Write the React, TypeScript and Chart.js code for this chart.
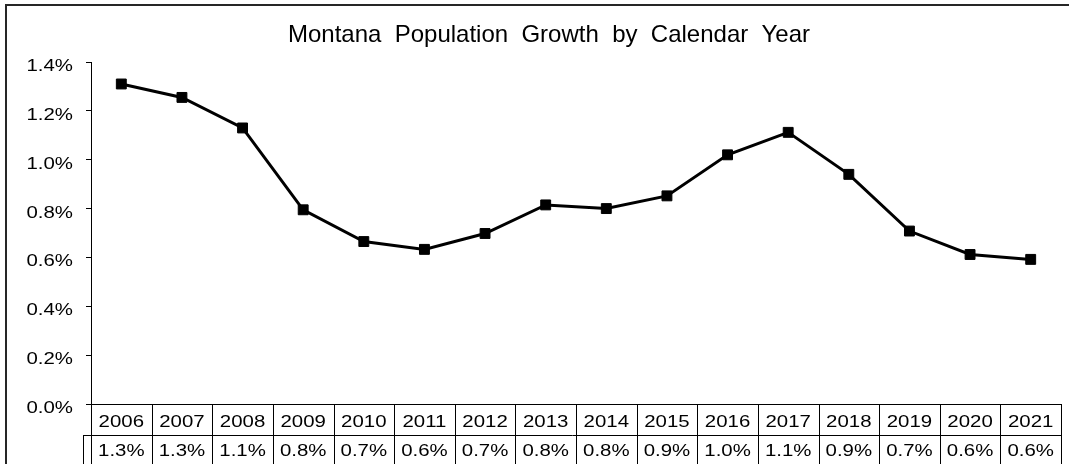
import { useEffect, useRef } from 'react';
import { Chart, registerables } from 'chart.js';

Chart.register(...registerables);

const years = ['2006', '2007', '2008', '2009', '2010', '2011', '2012', '2013', '2014', '2015', '2016', '2017', '2018', '2019', '2020', '2021'];
const growth = [1.31, 1.255, 1.13, 0.795, 0.665, 0.633, 0.698, 0.815, 0.8, 0.852, 1.02, 1.112, 0.94, 0.708, 0.612, 0.592];
const tableValues = ['1.3%', '1.3%', '1.1%', '0.8%', '0.7%', '0.6%', '0.7%', '0.8%', '0.8%', '0.9%', '1.0%', '1.1%', '0.9%', '0.7%', '0.6%', '0.6%'];
const yMin = 0;
const yMax = 1.4;
const yStep = 0.2;
const TITLE = 'Montana  Population  Growth  by  Calendar  Year';

const FONT = '"Liberation Sans", Arial, sans-serif';
const SX = 1.2;

function drawStretched(ctx: CanvasRenderingContext2D, text: string, x: number, y: number, align: CanvasTextAlign) {
  ctx.save();
  ctx.translate(x, y);
  ctx.scale(SX, 1);
  ctx.textAlign = align;
  ctx.textBaseline = 'alphabetic';
  ctx.fillText(text, 0, 0);
  ctx.restore();
}

const decor = {
  id: 'decor',
  afterDraw(chart: any) {
    const { ctx, chartArea: ca, scales } = chart;
    const xs = scales.x;
    const ys = scales.y;
    ctx.save();
    // outer frame
    ctx.strokeStyle = '#262626';
    ctx.lineWidth = 2;
    ctx.strokeRect(6, 5, chart.width + 20, chart.height + 20);
    // title
    ctx.fillStyle = '#000';
    ctx.font = `24px ${FONT}`;
    ctx.textAlign = 'center';
    ctx.textBaseline = 'alphabetic';
    ctx.fillText(TITLE, 549, 42);
    // y tick labels
    ctx.font = `17px ${FONT}`;
    ys.ticks.forEach((t: any) => {
      const y = ys.getPixelForValue(t.value);
      drawStretched(ctx, t.value.toFixed(1) + '%', 73, y + 9, 'right');
    });
    // data table
    const n = years.length;
    const w = (ca.right - ca.left) / n;
    const top = ca.bottom;
    const mid = Math.round(top + 31);
    const bot = chart.height + 2;
    ctx.strokeStyle = '#000';
    ctx.lineWidth = 1;
    ctx.beginPath();
    ctx.moveTo(83, mid + 0.5);
    ctx.lineTo(ca.right + 1, mid + 0.5);
    ctx.moveTo(83.5, mid);
    ctx.lineTo(83.5, bot);
    for (let i = 0; i <= n; i++) {
      const x = Math.round(ca.left + i * w) + 0.5;
      ctx.moveTo(x, top);
      ctx.lineTo(x, bot);
    }
    ctx.stroke();
    years.forEach((yr, i) => {
      const cx = xs.getPixelForValue(i);
      drawStretched(ctx, yr, cx, top + 23, 'center');
      drawStretched(ctx, tableValues[i], cx, mid + 21, 'center');
    });
    ctx.restore();
  },
};

export default function App() {
  const ref = useRef<HTMLCanvasElement | null>(null);
  useEffect(() => {
    if (!ref.current) return;
    const chart = new Chart(ref.current, {
      type: 'line',
      data: {
        labels: years,
        datasets: [
          {
            data: growth,
            borderColor: '#000',
            backgroundColor: '#000',
            borderWidth: 3,
            tension: 0,
            pointStyle: 'rect',
            pointRadius: 7,
            pointBorderWidth: 1,
            pointBackgroundColor: '#000',
            pointBorderColor: '#000',
          },
        ],
      },
      options: {
        animation: false,
        responsive: false,
        devicePixelRatio: 1,
        layout: { padding: { top: 62, left: 14, right: 1, bottom: 0 } },
        plugins: { legend: { display: false }, title: { display: false }, tooltip: { enabled: false } },
        scales: {
          x: {
            type: 'category',
            offset: true,
            grid: { display: false },
            ticks: { display: false },
            border: { display: true, color: '#000', width: 1 },
            afterFit: (s: any) => {
              s.height = 60;
            },
          },
          y: {
            min: yMin,
            max: yMax,
            ticks: { display: false, stepSize: yStep },
            grid: { display: true, drawOnChartArea: false, drawTicks: true, tickLength: 5, color: '#000', lineWidth: 1 },
            border: { display: true, color: '#000', width: 1 },
            afterFit: (s: any) => {
              s.width = 77;
            },
          },
        },
      },
      plugins: [decor],
    });
    return () => chart.destroy();
  }, []);
  return (
    <div style={{ position: 'absolute', left: 0, top: 0, width: 1069, height: 464, background: '#fff' }}>
      <canvas ref={ref} width={1069} height={464} style={{ display: 'block' }} />
    </div>
  );
}
